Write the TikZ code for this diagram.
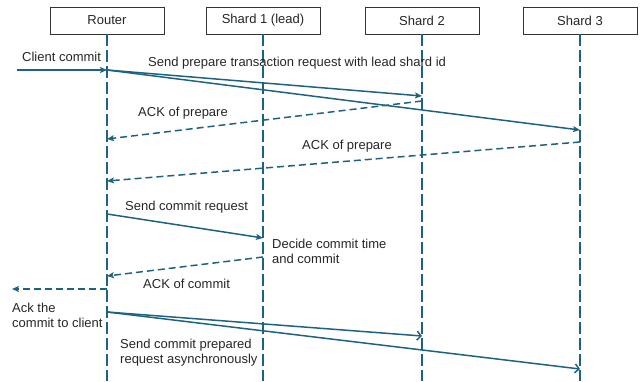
\documentclass[tikz,border=0pt]{standalone}
\usepackage{fontspec}
\setmainfont{Liberation Sans}
\definecolor{lifeblue}{RGB}{30,98,130}
\usetikzlibrary{arrows.meta}
\usetikzlibrary{positioning}
\usetikzlibrary{calc}

\begin{document}
\begin{tikzpicture}[x=1pt,y=-1pt,
  every node/.style={font=\fontsize{13}{15}\selectfont, text=black!85},
  party/.style={draw=black!80,line width=0.9pt,fill=white,minimum width=114pt,minimum height=27pt,inner sep=0pt},
  lifeline/.style={draw=lifeblue,line width=1.6pt,dash pattern=on 12pt off 4pt},
  msg/.style={draw=lifeblue,line width=1.5pt,-{Stealth[length=7pt,width=6pt,inset=1.5pt]}},
  asyncmsg/.style={draw=lifeblue,line width=1.5pt,-{Straight Barb[length=4pt,width=9pt]}},
  reply/.style={draw=lifeblue,line width=1.5pt,dash pattern=on 7pt off 4pt,-{Stealth[length=7pt,width=6pt,inset=1.5pt]}},
  note/.style={anchor=west,inner sep=0pt,align=left}]
\useasboundingbox (0,0) rectangle (641,381);

\node (router) at (107,20.5) [party] {Router};
\node (shardA) at (263,20.5) [party] {Shard 1 (lead)};
\node (shardB) at (422,20.5) [party] {Shard 2};
\node (shardC) at (580,20.5) [party] {Shard 3};

\coordinate (routerEnd) at (107,381);
\coordinate (shardAEnd) at (263,381);
\coordinate (shardBEnd) at (422,381);
\coordinate (shardCEnd) at (580,381);

\coordinate (client1) at (17,70);
\coordinate (client2) at (12,289);

\coordinate (r1) at (107,70);
\coordinate (r2) at (107,139);
\coordinate (r3) at (107,181);
\coordinate (r4) at (107,214);
\coordinate (r5) at (107,276);
\coordinate (r6) at (107,289);
\coordinate (r7) at (107,312);

\coordinate (a1) at (263,238);
\coordinate (a2) at (263,257);

\coordinate (b1) at (422,96);
\coordinate (b2) at (422,101);
\coordinate (b3) at (422,336);

\coordinate (c1) at (580,130);
\coordinate (c2) at (580,142);
\coordinate (c3) at (580,369);

  \draw[lifeline] (router) to[] (routerEnd);
  \draw[lifeline] (shardA) to[] (shardAEnd);
  \draw[lifeline] (shardB) to[] (shardBEnd);
  \draw[lifeline] (shardC) to[] (shardCEnd);

  \draw[msg] (client1) to[] (r1);
  \draw[msg] (r1) to[] (b1);
  \draw[msg] (r1) to[] (c1);
  \draw[reply] (b2) to[] (r2);
  \draw[reply] (c2) to[] (r3);
  \draw[msg] (r4) to[] (a1);
  \draw[reply] (a2) to[] (r5);
  \draw[reply] (r6) to[] (client2);
  \draw[asyncmsg] (r7) to[] (b3);
  \draw[asyncmsg] (r7) to[] (c3);

  \node (lclient) at (22,57) [note] {Client commit};
  \node (lprep) at (148,63) [note] {Send prepare transaction request with lead shard id};
  \node (lack1) at (138,113) [note] {ACK of prepare};
  \node (lack2) at (302,146) [note] {ACK of prepare};
  \node (lcommit) at (125,207) [note] {Send commit request};
  \node (ldecide) at (272,251) [note] {Decide commit time\\and commit};
  \node (lackc) at (143,284) [note] {ACK of commit};
  \node (lackclient) at (12,315) [note] {Ack the\\commit to client};
  \node (lasync) at (120,353) [note] {Send commit prepared\\request asynchronously};
\end{tikzpicture}
\end{document}
